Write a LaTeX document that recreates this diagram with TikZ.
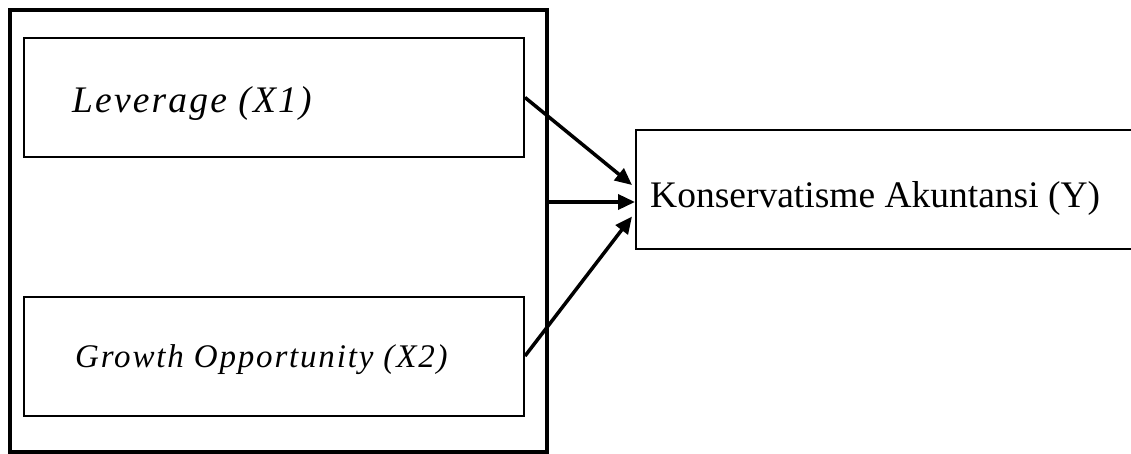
\documentclass[tikz,border=0pt]{standalone}
\usepackage{fontspec}
\setmainfont{Liberation Serif}
\usetikzlibrary{arrows.meta,calc}
\begin{document}
\begin{tikzpicture}[x=1pt,y=-1pt,
  outerbox/.style={draw, line width=3.5pt, minimum width=537pt, minimum height=442pt, inner sep=0pt},
  varbox/.style={draw, line width=2pt, minimum width=500pt, minimum height=119pt, inner sep=0pt},
  lbl/.style={inner sep=0pt, anchor=base west},
  link/.style={line width=3.5pt, -{Triangle[length=17pt, width=15pt]}}]
\useasboundingbox (0,0) rectangle (1131,454);
\node[outerbox] (outer) at (278.5,231) {};
\node[varbox] (lev) at (274,97.5) {};
\node[varbox] (gro) at (274,356) {};
\node[draw, line width=2pt, minimum width=504pt, minimum height=119pt, inner sep=0pt] (y) at (888,189.5) {};
\node[lbl, font=\fontsize{37.5}{40}\selectfont\addfontfeature{LetterSpace=5.8}] (levt) at (72,113) {\itshape Leverage (X1)};
\node[lbl, font=\fontsize{33}{36}\selectfont\addfontfeature{LetterSpace=5.5}] (grot) at (75,367) {\itshape Growth Opportunity (X2)};
\node[lbl, font=\fontsize{37.5}{40}\selectfont] (yt) at (650,208) {Konservatisme Akuntansi (Y)};
\coordinate (t1) at ($(y.west)+(-3,-4.5)$);
\coordinate (t2) at ($(y.west)+(0,12.5)$);
\coordinate (t3) at ($(y.west)+(-3,27)$);
\coordinate (s2) at (outer.east |- t2);
\draw[link] (lev.east) -- (t1);
\draw[link] (s2) -- (t2);
\draw[link] (gro.east) -- (t3);
\end{tikzpicture}
\end{document}
